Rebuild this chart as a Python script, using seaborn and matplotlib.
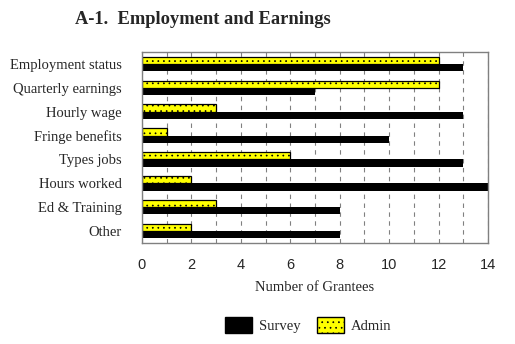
import matplotlib
matplotlib.use("Agg")
import matplotlib.pyplot as plt
import seaborn as sns
import pandas as pd
from matplotlib.patches import Patch
from matplotlib.ticker import MultipleLocator, FixedLocator

categories = ["Employment status", "Quarterly earnings", "Hourly wage", "Fringe benefits",
              "Types jobs", "Hours worked", "Ed & Training", "Other"]
survey = [13, 7, 13, 10, 13, 14, 8, 8]
admin = [12, 12, 3, 1, 6, 2, 3, 2]
xticks = [0, 2, 4, 6, 8, 10, 12, 14]

df = pd.DataFrame({
    "Category": categories * 2,
    "Value": admin + survey,
    "Series": ["Admin"] * len(categories) + ["Survey"] * len(categories),
})

sns.set_style("white")
plt.rcParams["hatch.linewidth"] = 0.5
fig = plt.figure(figsize=(5.15, 3.44), dpi=100)
ax = fig.add_axes([0.2757, 0.2936, 0.672, 0.555])

sns.barplot(data=df, y="Category", x="Value", hue="Series", hue_order=["Admin", "Survey"],
            order=categories, orient="h", palette={"Admin": "#ffff00", "Survey": "#000000"},
            width=0.61, gap=0, ax=ax, legend=False, saturation=1)

for p in ax.patches:
    if tuple(round(c, 2) for c in p.get_facecolor()[:3]) == (1.0, 1.0, 0.0):
        p.set_hatch("...")
        p.set_edgecolor("black")
        p.set_linewidth(0.9)
    else:
        p.set_edgecolor("black")
        p.set_linewidth(0)

ax.set_xlim(0, 14)
ax.set_ylim(len(categories) - 0.5, -0.5)
ax.xaxis.set_major_locator(FixedLocator(xticks))
ax.xaxis.set_minor_locator(MultipleLocator(1))
ax.grid(True, axis="x", which="both", linestyle=(0, (4, 4)), color="#808080", linewidth=0.8)
ax.set_axisbelow(True)

ax.set_yticks(range(len(categories)))
ax.set_yticklabels(categories, family="Liberation Serif", fontsize=10.5)
ax.yaxis.set_minor_locator(FixedLocator([i - 0.5 for i in range(len(categories) + 1)]))
ax.tick_params(axis="y", which="major", length=0, pad=14.5)
ax.tick_params(axis="y", which="minor", length=5, color="#808080", width=0.8, direction="out")
ax.tick_params(axis="x", which="major", length=5, color="#808080", width=0.8, direction="in",
               labelsize=10.5, pad=11)
ax.tick_params(axis="x", which="minor", length=5, color="#808080", width=0.8, direction="in")
for lab in ax.get_xticklabels():
    lab.set_family("Liberation Sans")

for s in ax.spines.values():
    s.set_color("#808080")
    s.set_linewidth(1)

ax.set_xlabel("Number of Grantees", family="Liberation Serif", fontsize=10.5, labelpad=6)
ax.set_ylabel("")

fig.text(0.146, 0.93, "A-1.  Employment and Earnings", family="Liberation Serif",
         fontsize=13.3, fontweight="bold", ha="left", va="baseline")

handles = [Patch(facecolor="black", edgecolor="black", label="Survey"),
           Patch(facecolor="#ffff00", edgecolor="black", hatch="...", label="Admin")]
fig.legend(handles=handles, loc="center", bbox_to_anchor=(0.599, 0.055), ncol=2, frameon=False,
           prop={"family": "Liberation Serif", "size": 10.5}, handlelength=1.85, handleheight=1.25,
           columnspacing=1.1, handletextpad=0.5)

fig.savefig("out.png", dpi=100)
